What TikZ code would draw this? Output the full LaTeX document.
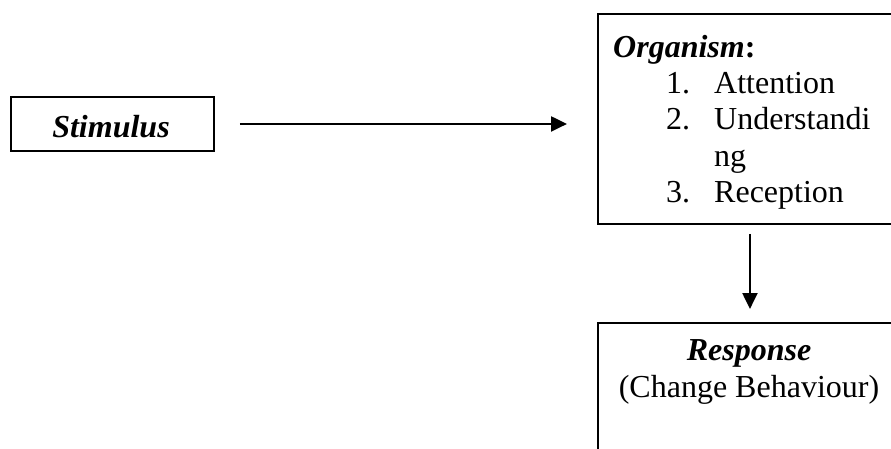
\documentclass[tikz,border=0pt]{standalone}
\usepackage{fontspec}
\setmainfont{Liberation Serif}
\usetikzlibrary{arrows.meta}
\begin{document}
\begin{tikzpicture}[x=1pt,y=-1pt,
  box/.style={draw, line width=1.9pt, inner sep=0pt},
  txt/.style={inner sep=0pt, anchor=base west, font=\fontsize{32}{36}\selectfont},
  arr/.style={line width=2.2pt, -{Triangle[length=16pt,width=15pt]}}]
\useasboundingbox (0,0) rectangle (891,448);
\clip (0,0) rectangle (891,448);
\fill[white] (0,0) rectangle (891,448);
% Stimulus
\node[box, minimum width=203pt, minimum height=54pt, anchor=north west] (stim) at (10,96) {};
\node[txt, anchor=base] (stimT) at (111,137) {\bfseries\itshape Stimulus};
% Organism
\node[box, minimum width=304pt, minimum height=210pt, anchor=north west] (org) at (597,13) {};
\node[txt] (orgT) at (613,57) {\textbf{\textit{Organism}:}};
\node[txt] (n1) at (666,93) {1.};
\node[txt] (i1) at (714,93) {Attention};
\node[txt] (n2) at (666,129) {2.};
\node[txt] (i2) at (714,129) {Understandi};
\node[txt] (i2b) at (714,166) {ng};
\node[txt] (n3) at (666,202) {3.};
\node[txt] (i3) at (714,202) {Reception};
% Response
\node[box, minimum width=304pt, minimum height=160pt, anchor=north west] (resp) at (597,322) {};
\node[txt, anchor=base] (respT) at (749,360) {\bfseries\itshape Response};
\node[txt, anchor=base] (respS) at (749,397) {(Change Behaviour)};
% Arrows
\draw[arr, shorten <=25pt, shorten >=30pt] (stim.east) -- (stim.east -| org.west);
\draw[arr, shorten <=9pt, shorten >=13pt] (org.south) -- (resp.north);
\end{tikzpicture}
\end{document}
